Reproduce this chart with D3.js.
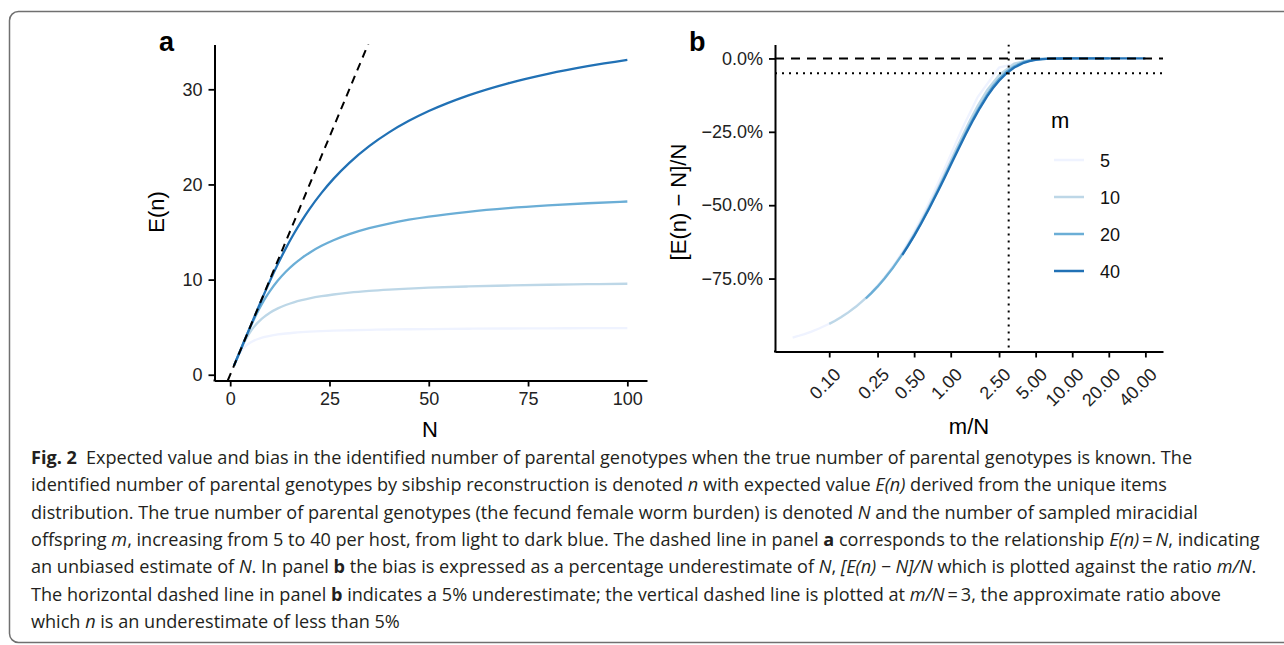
<!DOCTYPE html>
<html>
<head>
<meta charset="utf-8">
<script src="https://cdn.jsdelivr.net/npm/d3@7"></script>
<style>
  html, body { margin: 0; padding: 0; background: #fff; }
  svg { display: block; }
</style>
</head>
<body>
<svg id="fig" width="1284" height="645"></svg>
<script>
// ---------------- data ----------------
const N_VALUES = [1,2,3,4,5,6,7,8,9,10,12,14,16,18,20,23,26,30,35,40,45,50,60,70,80,90,100];
const M_VALUES = [5, 10, 20, 40];
const EN_M5  = [1,1.938,2.605,3.051,3.362,3.589,3.761,3.897,4.006,4.095,4.234,4.335,4.413,4.475,4.524,4.584,4.630,4.678,4.723,4.756,4.783,4.804,4.836,4.859,4.877,4.891,4.901];
const EN_M10 = [1,1.998,2.948,3.775,4.463,5.031,5.502,5.895,6.228,6.513,6.973,7.328,7.609,7.837,8.025,8.254,8.435,8.626,8.808,8.947,9.057,9.146,9.282,9.381,9.457,9.515,9.562];
const EN_M20 = [1,2.000,2.999,3.987,4.942,5.843,6.679,7.446,8.147,8.784,9.894,10.820,11.599,12.261,12.830,13.546,14.134,14.771,15.399,15.892,16.291,16.620,17.128,17.505,17.794,18.023,18.209];
const EN_M40 = [1,2.000,3.000,4.000,4.999,5.996,6.985,7.962,8.919,9.852,11.630,13.278,14.789,16.170,17.430,19.114,20.585,22.270,24.023,25.470,26.684,27.715,29.366,30.633,31.631,32.438,33.103];
const SERIES_EN = [EN_M5, EN_M10, EN_M20, EN_M40];
const COLORS = ["#eff3ff", "#bdd7e7", "#6baed6", "#2171b5"];

const A_XTICKS = [0, 25, 50, 75, 100];
const A_YTICKS = [0, 10, 20, 30];
const B_XTICKS = [0.1, 0.25, 0.5, 1, 2.5, 5, 10, 20, 40];
const B_XTICK_LABELS = ["0.10","0.25","0.50","1.00","2.50","5.00","10.00","20.00","40.00"];
const B_YTICKS = [0, -0.25, -0.5, -0.75];
const B_YTICK_LABELS = ["0.0%","\u221225.0%","\u221250.0%","\u221275.0%"];
const BIAS_THRESHOLD = -0.05;
const RATIO_THRESHOLD = 3;

// ---------------- helpers ----------------
const svg = d3.select("#fig");
const FONT = "'Liberation Sans', Arial, Helvetica, sans-serif";
const TICK_COLOR = "#222";
function expand(ext, f = 0.05) { const d = ext[1] - ext[0]; return [ext[0] - d * f, ext[1] + d * f]; }

// frame
svg.append("rect").attr("x", 9.5).attr("y", 11.5).attr("width", 1300).attr("height", 631)
  .attr("rx", 9).attr("fill", "none").attr("stroke", "#707070").attr("stroke-width", 1.5);

// ---------------- panel a ----------------
const A = { left: 214.5, right: 647, top: 44.5, bottom: 380.5 };
const ax = d3.scaleLinear().domain(expand(d3.extent(N_VALUES))).range([A.left, A.right]);
const allEn = SERIES_EN.flat();
const ay = d3.scaleLinear().domain(expand(d3.extent(allEn))).range([A.bottom, A.top]);

svg.append("clipPath").attr("id", "clipA").append("rect")
  .attr("x", A.left).attr("y", A.top).attr("width", A.right - A.left).attr("height", A.bottom - A.top);
const gA = svg.append("g").attr("clip-path", "url(#clipA)");

const lineA = d3.line().x(d => ax(d[0])).y(d => ay(d[1])).curve(d3.curveMonotoneX);
SERIES_EN.forEach((s, i) => {
  gA.append("path").datum(N_VALUES.map((n, j) => [n, s[j]]))
    .attr("d", lineA).attr("fill", "none").attr("stroke", COLORS[i]).attr("stroke-width", 2.3);
});
// E(n) = N reference (clipped to the panel)
const dA = ax.domain();
gA.append("line")
  .attr("x1", ax(ay.domain()[0])).attr("y1", ay(ay.domain()[0]))
  .attr("x2", ax(dA[1])).attr("y2", ay(dA[1]))
  .attr("stroke", "#000").attr("stroke-width", 2).attr("stroke-dasharray", "8,6");

// axes a
const axA_x = svg.append("g").attr("transform", `translate(0,${A.bottom})`)
  .call(d3.axisBottom(ax).tickValues(A_XTICKS).tickSize(6).tickPadding(6).tickSizeOuter(0));
const axA_y = svg.append("g").attr("transform", `translate(${A.left},0)`)
  .call(d3.axisLeft(ay).tickValues(A_YTICKS).tickSize(6).tickPadding(6).tickSizeOuter(0));

// ---------------- panel b ----------------
const B = { left: 775, right: 1163, top: 44.5, bottom: 351.5 };
const biasSeries = M_VALUES.map((m, i) => N_VALUES.map((n, j) => [m / n, (SERIES_EN[i][j] - n) / n]));
const allB = biasSeries.flat();
const lx = expand(d3.extent(allB, d => Math.log10(d[0])));
const bx = d3.scaleLog().domain([Math.pow(10, lx[0]), Math.pow(10, lx[1])]).range([B.left, B.right]);
const by = d3.scaleLinear().domain(expand(d3.extent(allB, d => d[1]))).range([B.bottom, B.top]);

svg.append("clipPath").attr("id", "clipB").append("rect")
  .attr("x", B.left).attr("y", B.top).attr("width", B.right - B.left).attr("height", B.bottom - B.top);
const gB = svg.append("g").attr("clip-path", "url(#clipB)");
const lineB = d3.line().x(d => bx(d[0])).y(d => by(d[1]));
biasSeries.forEach((s, i) => {
  gB.append("path").datum(s).attr("d", lineB).attr("fill", "none")
    .attr("stroke", COLORS[i]).attr("stroke-width", 2.3);
});
gB.append("line").attr("x1", B.left).attr("x2", B.right).attr("y1", by(0)).attr("y2", by(0))
  .attr("stroke", "#000").attr("stroke-width", 2).attr("stroke-dasharray", "9,7");
gB.append("line").attr("x1", B.left).attr("x2", B.right).attr("y1", by(BIAS_THRESHOLD)).attr("y2", by(BIAS_THRESHOLD))
  .attr("stroke", "#000").attr("stroke-width", 2).attr("stroke-dasharray", "2,5");
gB.append("line").attr("x1", bx(RATIO_THRESHOLD)).attr("x2", bx(RATIO_THRESHOLD)).attr("y1", B.top).attr("y2", B.bottom)
  .attr("stroke", "#000").attr("stroke-width", 2).attr("stroke-dasharray", "2,5");

const axB_x = svg.append("g").attr("transform", `translate(0,${B.bottom})`)
  .call(d3.axisBottom(bx).tickValues(B_XTICKS).tickFormat((d, i) => B_XTICK_LABELS[i]).tickSize(6).tickSizeOuter(0));
axB_x.selectAll(".tick text")
  .attr("text-anchor", "end").attr("dy", "0.72em").attr("y", 0)
  .attr("transform", "translate(3,15) rotate(-45)");
const axB_y = svg.append("g").attr("transform", `translate(${B.left},0)`)
  .call(d3.axisLeft(by).tickValues(B_YTICKS).tickFormat((d, i) => B_YTICK_LABELS[i]).tickSize(6).tickPadding(6).tickSizeOuter(0));

// axis styling
[axA_x, axA_y, axB_x, axB_y].forEach(g => {
  g.select(".domain").attr("stroke", "#000").attr("stroke-width", 2);
  g.selectAll(".tick line").attr("stroke", "#000").attr("stroke-width", 1.8);
  g.selectAll(".tick text").attr("font-family", FONT).attr("font-size", 18).attr("fill", TICK_COLOR);
});
svg.append("rect").attr("x", A.left - 1).attr("y", A.bottom - 1).attr("width", 2).attr("height", 2).attr("fill", "#000");
svg.append("rect").attr("x", B.left - 1).attr("y", B.bottom - 1).attr("width", 2).attr("height", 2).attr("fill", "#000");

// titles
function txt(x, y, s, opts = {}) {
  const t = svg.append("text").attr("x", x).attr("y", y).text(s)
    .attr("font-family", FONT).attr("font-size", opts.size || 22)
    .attr("fill", opts.fill || "#000").attr("text-anchor", opts.anchor || "middle");
  if (opts.weight) t.attr("font-weight", opts.weight);
  if (opts.rotate) t.attr("transform", `rotate(${opts.rotate},${x},${y})`);
  return t;
}
txt(159, 51, "a", { size: 27, weight: "bold", anchor: "start" });
txt(689, 51, "b", { size: 27, weight: "bold", anchor: "start" });
txt(430, 437, "N");
txt(164, 212, "E(n)", { rotate: -90 });
txt(969, 434, "m/N");
txt(686, 202, "[E(n) \u2212 N]/N", { rotate: -90 });

// legend
txt(1051, 128, "m", { anchor: "start" });
const LEG_Y = [160, 197, 234, 271];
M_VALUES.forEach((m, i) => {
  svg.append("line").attr("x1", 1054).attr("x2", 1084).attr("y1", LEG_Y[i]).attr("y2", LEG_Y[i])
    .attr("stroke", COLORS[i]).attr("stroke-width", 2.5);
  txt(1100, LEG_Y[i] + 6.5, String(m), { size: 18, anchor: "start", fill: "#111" });
});

// ---------------- caption ----------------
const CAP_FONT = "'Open Sans', 'Noto Sans', sans-serif";
const CAPTION = [
  [["b", "Fig. 2"], ["r", "\u2002Expected value and bias in the identified number of parental genotypes when the true number of parental genotypes is known. The"]],
  [["r", "identified number of parental genotypes by sibship reconstruction is denoted "], ["i", "n"], ["r", " with expected value "], ["i", "E(n)"], ["r", " derived from the unique items"]],
  [["r", "distribution. The true number of parental genotypes (the fecund female worm burden) is denoted "], ["i", "N"], ["r", " and the number of sampled miracidial"]],
  [["r", "offspring "], ["i", "m"], ["r", ", increasing from 5 to 40 per host, from light to dark blue. The dashed line in panel "], ["b", "a"], ["r", " corresponds to the relationship "], ["i", "E(n)"], ["r", "\u2009=\u2009"], ["i", "N"], ["r", ", indicating"]],
  [["r", "an unbiased estimate of "], ["i", "N"], ["r", ". In panel "], ["b", "b"], ["r", " the bias is expressed as a percentage underestimate of "], ["i", "N"], ["r", ", "], ["i", "[E(n) \u2212 N]/N"], ["r", " which is plotted against the ratio "], ["i", "m/N"], ["r", "."]],
  [["r", "The horizontal dashed line in panel "], ["b", "b"], ["r", " indicates a 5% underestimate; the vertical dashed line is plotted at "], ["i", "m/N"], ["r", "\u2009=\u20093, the approximate ratio above"]],
  [["r", "which "], ["i", "n"], ["r", " is an underestimate of less than 5%"]]
];
const CAP_X = 31, CAP_Y0 = 464, CAP_DY = 27.3;
CAPTION.forEach((parts, li) => {
  const t = svg.append("text").attr("x", CAP_X).attr("y", CAP_Y0 + li * CAP_DY)
    .attr("font-family", CAP_FONT).attr("font-size", 18.1).attr("fill", "#231f20");
  parts.forEach(([k, s]) => {
    const sp = t.append("tspan").text(s);
    if (k === "b") sp.attr("font-weight", "bold");
    if (k === "i") sp.attr("font-style", "italic");
  });
});
</script>
</body>
</html>
